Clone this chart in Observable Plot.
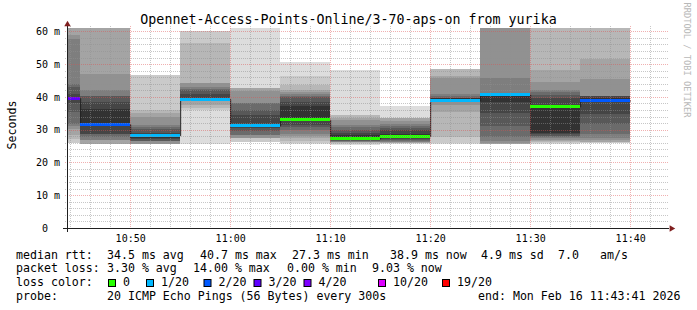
<!DOCTYPE html>
<html><head><meta charset="utf-8">
<script src="https://cdn.jsdelivr.net/npm/d3@7"></script>
<script src="https://cdn.jsdelivr.net/npm/@observablehq/plot@0.6"></script>
<style>
html,body{margin:0;padding:0;background:#fff;}
#chart{position:relative;width:697px;height:310px;overflow:hidden;}
</style></head><body><div id="chart"></div>
<script>
// ---- data ----
const intervalEnds = ["10:45","10:50","10:55","11:00","11:05","11:10","11:15","11:20","11:25","11:30","11:35","11:40"];
const medians = [39.6,31.7,28.3,39.3,31.3,33.0,27.3,28.0,39.0,40.7,37.1,38.9];
const losses  = [3,2,1,1,1,0,0,0,1,1,0,2];
// 20 sorted ping RTTs (ms) per 5-minute step
const pings = [
  [26.0,26.0,27.2,28.5,30.2,31.0,31.8,35.5,38.0,39.2,39.8,41.0,43.0,44.0,57.5,59.0,62,64,70,80],
  [25.7,25.7,25.7,25.7,26.9,26.9,27.8,28.8,28.8,31.3,36.4,38.4,40.2,40.4,42.0,46.9,63,66,70,80],
  [25.7,25.7,25.7,25.7,25.7,26.5,26.6,26.6,27.2,27.6,28.3,29.0,30.3,30.8,31.3,33.9,35.1,36.0,46.8,46.8],
  [25.7,36.1,36.6,37.4,38.8,38.9,38.9,39.0,39.0,39.1,39.8,41.0,42.0,42.5,43.0,44.2,44.2,56.5,60.0,60.0],
  [26.1,26.1,27.3,27.3,27.3,28.3,28.5,29.5,30.6,31.0,31.8,34.6,36.1,38.1,38.1,41.7,42.7,42.7,42.7,65],
  [25.7,25.9,26.5,27.3,28.0,28.8,29.8,30.8,31.5,32.6,37.2,38.5,40.0,40.3,40.9,41.6,42.2,43.5,46.3,50.7],
  [25.3,25.6,25.9,26.1,26.2,26.3,26.4,26.5,26.7,27.0,28.4,29.0,30.0,30.7,31.5,32.8,33.6,34.4,34.4,48.3],
  [25.7,25.8,25.9,26.0,26.1,26.3,26.5,26.7,27.0,27.8,28.6,29.8,30.4,31.2,31.8,32.5,33.7,33.7,33.7,37.1],
  [25.7,26.0,27.8,35.4,37.4,38.3,38.7,38.8,38.85,38.9,39.6,39.7,39.8,40.2,41.0,45.6,46.5,48.6,48.6,48.6],
  [25.7,25.7,25.7,25.7,25.8,26.5,27.8,31.0,35.1,38.4,40.7,41.0,41.0,41.0,45.9,63,66,70,80,90],
  [25.7,25.9,26.2,26.5,26.8,27.3,27.8,28.2,28.8,29.0,37.2,39.8,40.5,41.5,42.0,44.6,48.1,63,66,70],
  [25.8,25.8,26.2,26.2,26.8,27.3,28.8,31.8,34.9,38.4,39.6,40.2,40.2,40.2,40.2,45.3,51.4,63,66,70]
];
const lossBins   = [0,1,2,3,4,10,19];
const lossLabels = ["0","1/20","2/20","3/20","4/20","10/20","19/20"];
const lossColors = ["#26ff00","#00b8ff","#0059ff","#5e00ff","#7e00ff","#dd00ff","#ff0000"];
const yTicks = [0,10,20,30,40,50,60];
const xTickLabels = ["10:50","11:00","11:10","11:20","11:30","11:40"];
const titleText = "Opennet-Access-Points-Online/3-70-aps-on from yurika";
const yLabel = "Seconds";
const rttStats = [["median rtt:",16],["34.5 ms avg",107],["40.7 ms max",200],["27.3 ms min",292],["38.9 ms now",390],["4.9 ms sd",481],["7.0",558],["am/s",600]];
const lossStats = [["packet loss:",16],["3.30 % avg",107],["14.00 % max",193],["0.00 % min",287],["9.03 % now",372]];
const probeText = [["probe:",16],["20 ICMP Echo Pings (56 Bytes) every 300s",107],["end: Mon Feb 16 11:43:41 2026",478]];
const lossLegendX = [108,146,203.5,253.5,303.5,378,442];

// ---- build ----
const T = (s, sec=0) => { const [h,m] = s.split(":").map(Number); return new Date(Date.UTC(2026,1,16,h,m,sec)); };
const tStart = T("10:43",41), tEnd = T("11:43",41);
const STEP = 5*60*1000;
const smoke = [], medRects = [], steps = [];
pings.forEach((p, i) => {
  const x2 = T(intervalEnds[i]), x1 = new Date(+x2 - STEP);
  for (let ibot = 1; ibot <= 10; ibot++) {
    const lo = p[ibot-1], hi = p[20-ibot];
    if (lo == null || hi == null) continue;
    const c = Math.floor(190/10*(10-ibot)) + 50;
    smoke.push({x1, x2, y1: lo, y2: hi, fill: `rgb(${c},${c},${c})`});
  }
  let bi = 0; lossBins.forEach((b, k) => { if (losses[i] >= b) bi = k; });
  medRects.push({x1, x2, y1: medians[i]-0.45, y2: medians[i]+0.45, fill: lossColors[bi]});
  steps.push({x: x1, y: medians[i]});
  if (i === pings.length-1) steps.push({x: x2, y: medians[i]});
});
const minorX = [], majorX = xTickLabels.map(s => T(s));
for (let t = +T("10:44"); t <= +T("11:42"); t += 120000) { const d = new Date(t); if (d.getUTCMinutes() % 10) minorX.push(d); }
const minorY = d3.range(2, 60, 2).filter(v => v % 10);
const majorY = yTicks.filter(v => v > 0);
const gridMinor = {stroke: "rgb(143,143,143)", strokeOpacity: 0.5, strokeDasharray: "1,1", shapeRendering: "crispEdges"};
const gridMajor = {stroke: "rgb(222,79,79)", strokeOpacity: 0.45, strokeDasharray: "1,1", shapeRendering: "crispEdges"};

const chart = Plot.plot({
  width: 697, height: 310,
  marginLeft: 67, marginRight: 30, marginTop: 28, marginBottom: 82,
  x: {type: "utc", domain: [tStart, tEnd]},
  y: {domain: [0, 61]},
  color: {type: "identity"},
  style: {fontFamily: "DejaVu Sans Mono", fontSize: "10px", background: "#fff", color: "#000", overflow: "visible"},
  marks: [
    Plot.rect(smoke, {x1: "x1", x2: "x2", y1: "y1", y2: "y2", fill: "fill", clip: true, shapeRendering: "crispEdges"}),
    Plot.line(steps, {x: "x", y: "y", curve: "step-after", stroke: "#202020", strokeWidth: 1, clip: true}),
    Plot.rect(medRects, {x1: "x1", x2: "x2", y1: "y1", y2: "y2", fill: "fill", clip: true, shapeRendering: "crispEdges"}),
    Plot.ruleY(minorY, {...gridMinor, insetLeft: -2, insetRight: -2}),
    Plot.ruleX(minorX, {...gridMinor, insetTop: -2, insetBottom: -2}),
    Plot.ruleY(majorY, {...gridMajor, insetLeft: -2, insetRight: -2}),
    Plot.ruleX(majorX, {...gridMajor, insetTop: -2, insetBottom: -2}),
    Plot.ruleY([0], {stroke: "rgb(31,31,31)", insetLeft: -4, insetRight: -2, shapeRendering: "crispEdges"}),
    Plot.ruleX([tStart], {stroke: "rgb(31,31,31)", insetTop: -3, insetBottom: -4, shapeRendering: "crispEdges"}),
    Plot.dot([0], {frameAnchor: "bottom-right", dx: 4, symbol: "triangle", rotate: 90, r: 2.4, fill: "rgb(128,31,31)", stroke: null}),
    Plot.dot([0], {frameAnchor: "top-left", dy: -4, symbol: "triangle", r: 2.4, fill: "rgb(128,31,31)", stroke: null}),
    Plot.axisY(yTicks, {tickSize: 0, tickPadding: 7.5, label: null, fontSize: 10, tickFormat: d => d ? d + " m" : "0\u00a0\u00a0"}),
    Plot.axisX(majorX, {tickSize: 0, tickPadding: 6, label: null, fontSize: 10, tickFormat: d3.utcFormat("%H:%M")})
  ]
});
document.getElementById("chart").appendChild(chart);

const svg = d3.select(chart);
const FONT = "DejaVu Sans Mono";
svg.append("text").attr("x", 348.5).attr("y", 24).attr("text-anchor", "middle")
  .attr("font-family", FONT).attr("font-size", 13.3).attr("fill", "#000").text(titleText);
svg.append("text").attr("transform", "translate(15.5,125) rotate(-90)").attr("text-anchor", "middle")
  .attr("font-family", FONT).attr("font-size", 11.6).attr("fill", "#000").text(yLabel);
svg.append("text").attr("transform", "translate(683.5,60) rotate(90)").attr("text-anchor", "middle")
  .attr("font-family", FONT).attr("font-size", 8.7).attr("fill", "#b8b8b8").text("RRDTOOL / TOBI OETIKER");

const leg = svg.append("g").attr("font-family", FONT).attr("font-size", 11.6).attr("fill", "#000").attr("text-anchor", "start");
const putLine = (items, y) => items.forEach(([t, x]) => leg.append("text").attr("x", x).attr("y", y).attr("text-anchor", "start").text(t));
putLine(rttStats, 258.7);
putLine(lossStats, 272.3);
putLine([["loss color:", 16]], 286);
lossLabels.forEach((l, k) => {
  leg.append("rect").attr("x", lossLegendX[k] + 0.5).attr("y", 279.5).attr("width", 7).attr("height", 7)
    .attr("fill", lossColors[k]).attr("stroke", "#000").attr("stroke-width", 1);
  leg.append("text").attr("x", lossLegendX[k] + 15).attr("y", 286).attr("text-anchor", "start").text(l);
});
putLine(probeText, 299.7);
</script></body></html>
